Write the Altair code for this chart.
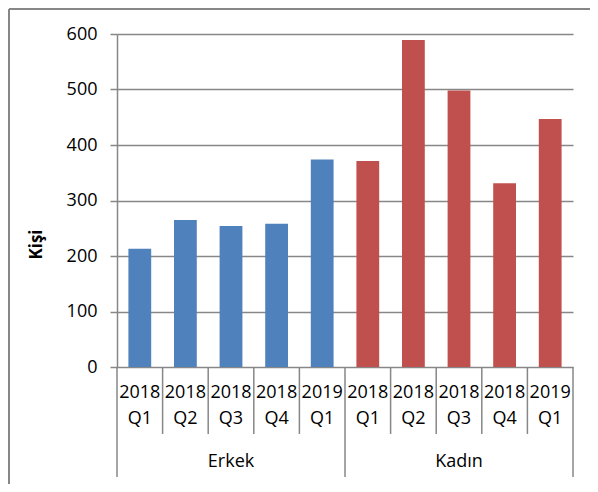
import altair as alt
import pandas as pd

# Data
groups = ["Erkek"] * 5 + ["Kadın"] * 5
years = ["2018", "2018", "2018", "2018", "2019", "2018", "2018", "2018", "2018", "2019"]
quarters = ["Q1", "Q2", "Q3", "Q4", "Q1", "Q1", "Q2", "Q3", "Q4", "Q1"]
values = [213, 265, 254, 258, 374, 371, 589, 498, 331, 447]
group_names = ["Erkek", "Kadın"]
colors = ["#4F81BD", "#C0504D"]
y_ticks = [0, 100, 200, 300, 400, 500, 600]

FONT = "Open Sans"
W, H = 456, 333
GRAY = "#878787"

n = len(values)
df = pd.DataFrame({
    "idx": list(range(n)),
    "group": groups,
    "year": years,
    "quarter": quarters,
    "value": values,
})
df["x0"] = df["idx"] + 0.25
df["x1"] = df["idx"] + 0.75
df["xc"] = df["idx"] + 0.5

per_group = n // len(group_names)
grp = pd.DataFrame({
    "group": group_names,
    "xc": [per_group * (i + 0.5) for i in range(len(group_names))],
})
long_b = pd.DataFrame({"b": [per_group * i for i in range(len(group_names) + 1)]})
short_b = pd.DataFrame({"b": [i for i in range(1, n) if i % per_group != 0]})

xs = alt.Scale(domain=[0, n], nice=False, zero=False)

bars = alt.Chart(df).mark_bar().encode(
    x=alt.X("x0:Q", scale=xs, axis=None),
    x2="x1:Q",
    y=alt.Y(
        "value:Q",
        scale=alt.Scale(domain=[0, 600], nice=False),
        axis=alt.Axis(
            values=y_ticks,
            title="Kişi",
            titleFont=FONT,
            titleFontSize=17,
            titleFontWeight="bold",
            titleColor="#000000",
            titleX=-72,
            titleY=210,
            labelFont=FONT,
            labelFontSize=18,
            labelColor="#000000",
            labelPadding=13,
            tickSize=7,
            tickColor=GRAY,
            tickWidth=1.5,
            domainColor=GRAY,
            domainWidth=1.5,
            grid=True,
            gridColor=GRAY,
            gridWidth=1.5,
        ),
    ),
    y2=alt.datum(0),
    color=alt.Color("group:N", scale=alt.Scale(domain=group_names, range=colors), legend=None),
)

year_txt = alt.Chart(df).mark_text(font=FONT, fontSize=18, color="#000000", baseline="middle").encode(
    x=alt.X("xc:Q", scale=xs), y=alt.value(359), text="year:N"
)
q_txt = alt.Chart(df).mark_text(font=FONT, fontSize=18, color="#000000", baseline="middle").encode(
    x=alt.X("xc:Q", scale=xs), y=alt.value(385), text="quarter:N"
)
g_txt = alt.Chart(grp).mark_text(font=FONT, fontSize=18, color="#000000", baseline="middle").encode(
    x=alt.X("xc:Q", scale=xs), y=alt.value(428), text="group:N"
)

short_rules = alt.Chart(short_b).mark_rule(color=GRAY, strokeWidth=1.5).encode(
    x=alt.X("b:Q", scale=xs), y=alt.value(H), y2=alt.value(H + 67)
)
long_rules = alt.Chart(long_b).mark_rule(color=GRAY, strokeWidth=1.5).encode(
    x=alt.X("b:Q", scale=xs), y=alt.value(H), y2=alt.value(H + 110)
)

# outer frame (decoration)
frame_left = alt.Chart(grp).mark_rule(color=GRAY, strokeWidth=2).encode(
    x=alt.value(-108), y=alt.value(-25), y2=alt.value(455)
)
frame_top = alt.Chart(grp).mark_rule(color=GRAY, strokeWidth=2).encode(
    x=alt.value(-108), x2=alt.value(480), y=alt.value(-25)
)
frame_bottom = alt.Chart(grp).mark_rule(color=GRAY, strokeWidth=2).encode(
    x=alt.value(-108), x2=alt.value(480), y=alt.value(455)
)

chart = alt.layer(
    bars, short_rules, long_rules, year_txt, q_txt, g_txt, frame_left, frame_top, frame_bottom
).properties(
    width=W,
    height=H,
    autosize=alt.AutoSizeParams(type="none"),
    padding={"left": 109, "top": 26, "right": 17, "bottom": 117},
).configure_view(stroke=None)

chart.save("out.html", embed_options={"renderer": "svg", "actions": False})
